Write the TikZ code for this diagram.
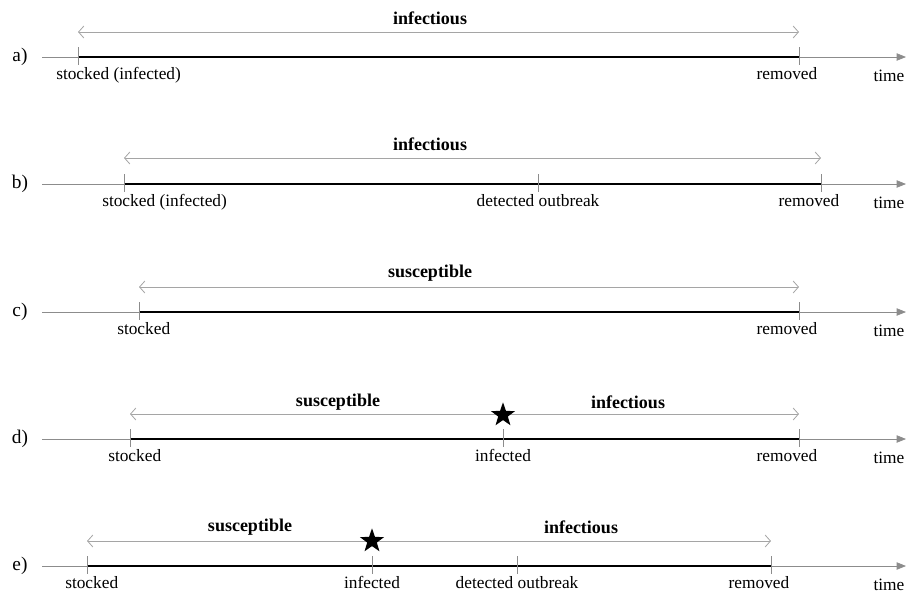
\documentclass[tikz,border=0pt]{standalone}
\usepackage{fontspec}
\setmainfont{Liberation Serif}
\usetikzlibrary{arrows.meta,shapes.geometric}
\definecolor{axisgray}{RGB}{140,140,140}
\definecolor{spangray}{RGB}{165,165,165}

\newcommand{\eventtick}[1]{\draw[tickline] ([yshift=7.5pt]#1) -- ([yshift=-6pt]#1);}

\begin{document}
\begin{tikzpicture}[x=0.75pt, y=-0.75pt, font=\fontsize{13}{15}\selectfont,
  timeaxis/.style={axisgray, line width=0.6pt, -{Triangle[length=7pt,width=5.5pt]}},
  period/.style={black, line width=1.3pt},
  tickline/.style={axisgray, line width=0.5pt},
  span/.style={spangray, line width=0.6pt, {Straight Barb[length=4pt,width=9pt]}-{Straight Barb[length=4pt,width=9pt]}},
  state/.style={font=\fontsize{13.5}{15}\selectfont\bfseries},
  rowlab/.style={font=\fontsize{14.5}{16}\selectfont},
  event/.style={anchor=north, inner sep=1pt, yshift=-6.5pt},
  startev/.style={event, anchor=north west, xshift=-17.5pt},
  endev/.style={event, xshift=-9pt},
  infstar/.style={star, star points=5, star point ratio=2.5, fill=black, inner sep=0pt, minimum size=19pt}]

  \useasboundingbox (0,0) rectangle (907,594);

  % time axes
  \foreach \r/\y in {a/57, b/184, c/312, d/439, e/566} {
    \node[rowlab] (\r-lab) at (20,\y) {\r)};
    \coordinate (\r-ax0) at (42,\y);
    \coordinate (\r-ax1) at (906,\y);
    \draw[timeaxis] (\r-ax0) -- (\r-ax1);
    \node (\r-time) at (889,\y+19) {time};
  }

  % a) stocked infected
  \coordinate (a-st) at (78,57);
  \coordinate (a-rm) at (799,57);
  \draw[period] (a-st) -- (a-rm);
  \eventtick{a-st} \eventtick{a-rm}
  \node[startev] (a-stl) at (a-st) {stocked (infected)};
  \node[endev] (a-rml) at (a-rm) {removed};
  \coordinate (a-s0) at (78,32);
  \coordinate (a-s1) at (799,32);
  \draw[span] (a-s0) -- (a-s1);
  \node[state] (a-inf) at (430,18) {infectious};

  % b) stocked infected, detected
  \coordinate (b-st) at (124,184);
  \coordinate (b-dt) at (538,184);
  \coordinate (b-rm) at (821,184);
  \draw[period] (b-st) -- (b-rm);
  \eventtick{b-st} \eventtick{b-dt} \eventtick{b-rm}
  \node[startev] (b-stl) at (b-st) {stocked (infected)};
  \node[event] (b-dtl) at (b-dt) {detected outbreak};
  \node[endev] (b-rml) at (b-rm) {removed};
  \coordinate (b-s0) at (124,158);
  \coordinate (b-s1) at (821,158);
  \draw[span] (b-s0) -- (b-s1);
  \node[state] (b-inf) at (430,144) {infectious};

  % c) stocked susceptible
  \coordinate (c-st) at (139,312);
  \coordinate (c-rm) at (799,312);
  \draw[period] (c-st) -- (c-rm);
  \eventtick{c-st} \eventtick{c-rm}
  \node[startev] (c-stl) at (c-st) {stocked};
  \node[endev] (c-rml) at (c-rm) {removed};
  \coordinate (c-s0) at (139,287);
  \coordinate (c-s1) at (799,287);
  \draw[span] (c-s0) -- (c-s1);
  \node[state] (c-sus) at (430,273) {susceptible};

  % d) infected on farm
  \coordinate (d-st) at (130,439);
  \coordinate (d-if) at (503,439);
  \coordinate (d-rm) at (799,439);
  \draw[period] (d-st) -- (d-rm);
  \eventtick{d-st} \eventtick{d-if} \eventtick{d-rm}
  \node[startev] (d-stl) at (d-st) {stocked};
  \node[event] (d-ifl) at (d-if) {infected};
  \node[endev] (d-rml) at (d-rm) {removed};
  \coordinate (d-s0) at (130,414);
  \coordinate (d-s1) at (799,414);
  \draw[span] (d-s0) -- (d-s1);
  \node[infstar] (d-star) at (503,415) {};
  \node[state] (d-sus) at (338,402) {susceptible};
  \node[state] (d-inf) at (628,402) {infectious};

  % e) infected on farm, detected
  \coordinate (e-st) at (87,566);
  \coordinate (e-if) at (372,566);
  \coordinate (e-dt) at (517,566);
  \coordinate (e-rm) at (771,566);
  \draw[period] (e-st) -- (e-rm);
  \eventtick{e-st} \eventtick{e-if} \eventtick{e-dt} \eventtick{e-rm}
  \node[startev] (e-stl) at (e-st) {stocked};
  \node[event] (e-ifl) at (e-if) {infected};
  \node[event] (e-dtl) at (e-dt) {detected outbreak};
  \node[endev] (e-rml) at (e-rm) {removed};
  \coordinate (e-s0) at (87,541);
  \coordinate (e-s1) at (771,541);
  \draw[span] (e-s0) -- (e-s1);
  \node[infstar] (e-star) at (372,541) {};
  \node[state] (e-sus) at (250,527) {susceptible};
  \node[state] (e-inf) at (581,527) {infectious};
\end{tikzpicture}
\end{document}
